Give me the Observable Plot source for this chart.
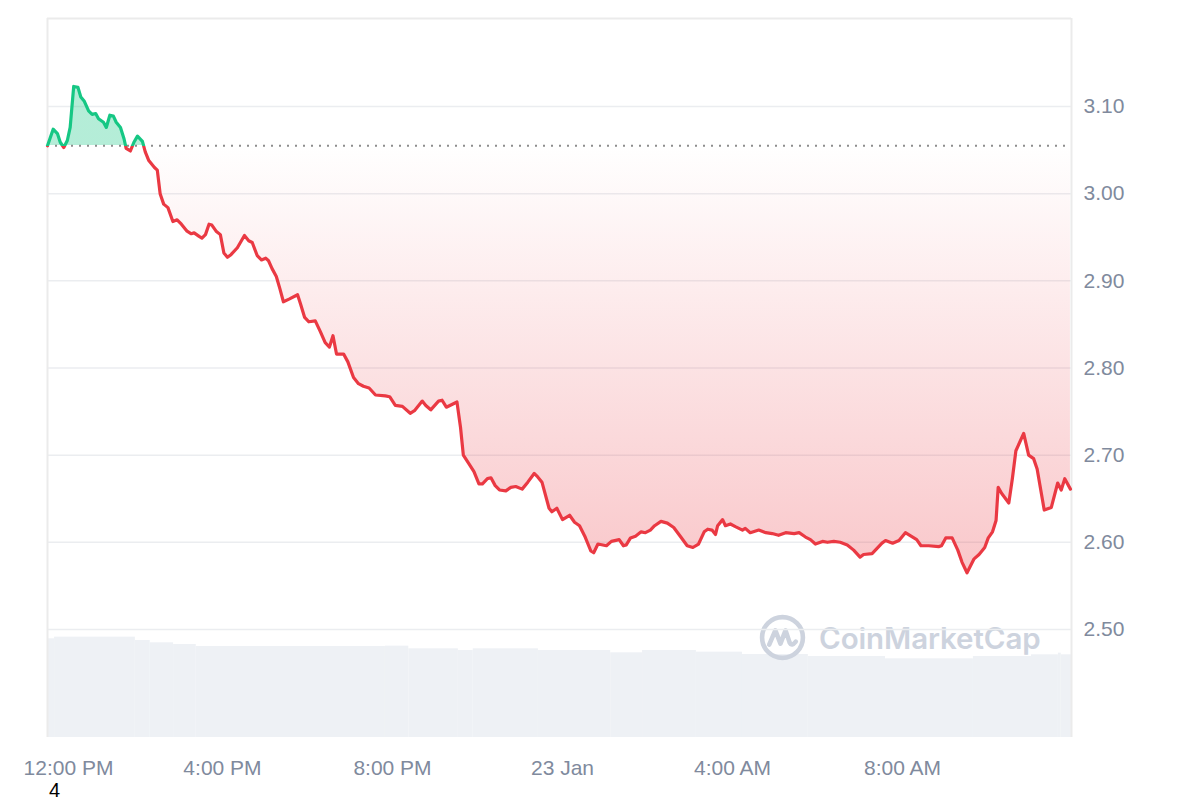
<!DOCTYPE html>
<html>
<head>
<meta charset="utf-8">
<script src="https://cdn.jsdelivr.net/npm/d3@7"></script>
<script src="https://cdn.jsdelivr.net/npm/@observablehq/plot@0.6"></script>
<style>
  html, body { margin: 0; padding: 0; background: #fff; }
  #chart { position: relative; width: 1200px; height: 780px; }
  #chart > svg { position: absolute; left: 0; top: 0; }
  #wm { position: absolute; left: 758px; top: 613px; display: flex; align-items: center; gap: 12px;
        font-family: Inter, "Noto Sans", sans-serif; font-weight: 600; font-size: 29.5px; color: #cdd3de; letter-spacing: -0.1px; }
  #caption { font-family: "Liberation Sans", Arial, sans-serif; font-size: 20px; line-height: 20px; height: 20px; padding-left: 49px; color: #000; }
</style>
</head>
<body>
<div id="chart"></div>
<div id="caption">4</div>
<script>
// ---- data ----
const times = [
"22 11:53","22 12:01","22 12:07","22 12:11","22 12:16","22 12:21","22 12:25","22 12:30","22 12:36","22 12:40",
"22 12:45","22 12:51","22 12:56","22 13:01","22 13:05","22 13:12","22 13:16","22 13:21","22 13:26","22 13:30",
"22 13:36","22 13:41","22 13:44","22 13:50","22 13:55","22 14:00","22 14:07","22 14:11","22 14:16","22 14:24",
"22 14:28","22 14:32","22 14:37","22 14:43","22 14:50","22 14:56","22 15:02","22 15:10","22 15:16","22 15:20",
"22 15:27","22 15:31","22 15:36","22 15:41","22 15:45","22 15:51","22 15:57","22 16:02","22 16:07","22 16:12",
"22 16:21","22 16:31","22 16:37","22 16:42","22 16:49","22 16:55","22 17:01","22 17:05","22 17:10","22 17:16",
"22 17:21","22 17:26","22 17:34","22 17:46","22 17:50","22 17:56","22 18:02","22 18:11","22 18:18","22 18:25",
"22 18:31","22 18:36","22 18:41","22 18:51","22 18:57","22 19:05","22 19:12","22 19:19","22 19:27","22 19:36",
"22 19:50","22 19:56","22 20:04","22 20:14","22 20:25","22 20:31","22 20:42","22 20:47","22 20:54","22 21:05",
"22 21:10","22 21:16","22 21:31","22 21:36","22 21:40","22 21:48","22 21:55","22 22:02","22 22:07","22 22:14",
"22 22:19","22 22:25","22 22:31","22 22:40","22 22:47","22 22:54","22 23:03","22 23:11","22 23:20","22 23:25",
"22 23:31","22 23:41","22 23:45","22 23:52","23 00:00","23 00:10","23 00:17","23 00:24","23 00:32","23 00:40",
"23 00:44","23 00:50","23 01:02","23 01:09","23 01:20","23 01:26","23 01:30","23 01:36","23 01:43","23 01:51",
"23 01:57","23 02:04","23 02:10","23 02:19","23 02:28","23 02:37","23 02:47","23 02:56","23 03:04","23 03:12",
"23 03:20","23 03:25","23 03:31","23 03:36","23 03:39","23 03:46","23 03:50","23 03:57","23 04:04","23 04:14",
"23 04:18","23 04:25","23 04:37","23 04:47","23 04:56","23 05:05","23 05:15","23 05:27","23 05:34","23 05:43",
"23 05:50","23 05:57","23 06:07","23 06:14","23 06:23","23 06:32","23 06:42","23 06:51","23 07:00","23 07:05",
"23 07:17","23 07:24","23 07:31","23 07:36","23 07:46","23 07:55","23 08:04","23 08:12","23 08:20","23 08:26",
"23 08:37","23 08:51","23 08:55","23 09:01","23 09:10","23 09:18","23 09:24","23 09:31","23 09:36","23 09:41",
"23 09:48","23 09:56","23 10:01","23 10:07","23 10:12","23 10:15","23 10:20","23 10:30","23 10:35","23 10:40",
"23 10:51","23 10:58","23 11:05","23 11:10","23 11:20","23 11:30","23 11:39","23 11:44","23 11:49","23 11:57"
];
const prices = [
3.055,3.074,3.069,3.059,3.053,3.061,3.076,3.123,3.122,3.111,
3.106,3.095,3.091,3.092,3.086,3.082,3.076,3.090,3.089,3.082,
3.076,3.063,3.052,3.049,3.059,3.066,3.060,3.048,3.038,3.030,
3.027,3.000,2.988,2.984,2.968,2.970,2.965,2.957,2.954,2.955,
2.951,2.949,2.953,2.965,2.964,2.957,2.953,2.932,2.927,2.930,
2.938,2.952,2.946,2.944,2.929,2.924,2.926,2.923,2.914,2.905,
2.891,2.876,2.879,2.884,2.874,2.858,2.853,2.854,2.842,2.829,
2.824,2.837,2.816,2.816,2.807,2.789,2.782,2.779,2.777,2.769,
2.768,2.767,2.757,2.756,2.748,2.751,2.762,2.757,2.752,2.762,
2.763,2.755,2.761,2.732,2.700,2.690,2.681,2.667,2.667,2.673,
2.674,2.665,2.660,2.659,2.663,2.664,2.661,2.669,2.679,2.675,
2.669,2.639,2.635,2.639,2.626,2.631,2.623,2.619,2.606,2.590,
2.588,2.598,2.596,2.601,2.603,2.596,2.597,2.605,2.607,2.612,
2.611,2.614,2.619,2.624,2.622,2.617,2.606,2.596,2.594,2.598,
2.612,2.615,2.614,2.609,2.619,2.626,2.619,2.621,2.618,2.614,
2.616,2.611,2.614,2.611,2.610,2.608,2.611,2.610,2.611,2.606,
2.603,2.598,2.601,2.600,2.601,2.600,2.597,2.591,2.583,2.586,
2.587,2.593,2.599,2.602,2.599,2.602,2.611,2.607,2.603,2.596,
2.596,2.595,2.596,2.605,2.605,2.591,2.577,2.565,2.573,2.581,
2.586,2.594,2.605,2.612,2.625,2.663,2.656,2.645,2.673,2.705,
2.725,2.700,2.696,2.684,2.637,2.640,2.668,2.660,2.673,2.661
];
// 24h volume profile (arbitrary units, read as relative bar heights)
const volStarts = ["22 11:53","22 12:03","22 13:57","22 14:18","22 14:51","22 15:23","22 19:50","22 20:23","22 21:33","22 21:54",
                   "22 23:26","23 01:08","23 01:53","23 03:09","23 04:14","23 05:47","23 07:36","23 09:40","23 11:02","23 11:40","23 11:44"];
const volEnds   = ["22 12:03","22 13:57","22 14:18","22 14:51","22 15:23","22 19:50","22 20:23","22 21:33","22 21:54","22 23:26",
                   "23 01:08","23 01:53","23 03:09","23 04:14","23 05:47","23 07:36","23 09:40","23 11:02","23 11:40","23 11:44","23 11:59"];
const volumes   = [296,301,291,284,279,273,274,266,261,266,261,254,261,256,249,243,236,243,248,253,248];
const yTicks = [2.5, 2.6, 2.7, 2.8, 2.9, 3.0, 3.1];
const xTickTimes = ["22 12:00","22 16:00","22 20:00","23 00:00","23 04:00","23 08:00"];
const xTickLabels = ["12:00 PM","4:00 PM","8:00 PM","23 Jan","4:00 AM","8:00 AM"];
const xStart = "22 11:53", xEnd = "23 11:58:30";
const yDomain = [2.376, 3.201];

// ---- build ----
const parseT = s => new Date(`2025-01-${s.slice(0,2)}T${s.slice(3)}`);
const data = times.map((t, i) => ({time: parseT(t), price: prices[i]}));
const vol = volumes.map((v, i) => ({start: parseT(volStarts[i]), end: parseT(volEnds[i]), v}));
const xt = xTickTimes.map((t, i) => ({t: parseT(t), label: xTickLabels[i]}));
const baseline = prices[0];
const xDomain = [parseT(xStart), parseT(xEnd)];

const W = 1200, H = 780, mT = 18, mB = 43, mL = 47, mR = 129;
const FONT = '"Liberation Sans", Arial, sans-serif';
const GRAY = "#808a9d";
const FS = 21;

const volPlot = Plot.plot({
  width: W, height: H, marginTop: mT, marginBottom: mB, marginLeft: mL, marginRight: mR,
  x: {type: "time", domain: xDomain, axis: null},
  y: {domain: [0, 2157], axis: null, label: null},
  style: {background: "white"},
  marks: [
    Plot.rectY(vol, {x1: "start", x2: "end", y: "v", fill: "#eef1f5"})
  ]
});

const pricePlot = Plot.plot({
  width: W, height: H, marginTop: mT, marginBottom: mB, marginLeft: mL, marginRight: mR,
  x: {type: "time", domain: xDomain, axis: null, label: null},
  y: {domain: yDomain, axis: null, label: null},
  style: {background: "transparent", fontFamily: FONT, fontSize: FS + "px", color: GRAY},
  marks: [
    Plot.gridY(yTicks, {stroke: "#ebedf0", strokeOpacity: 1, strokeWidth: 1.5}),
    Plot.ruleY([yDomain[1]], {stroke: "#ebebeb", strokeWidth: 2}),
    Plot.ruleX(xDomain, {stroke: "#ebebeb", strokeWidth: 2}),
    Plot.areaY(data, {x: "time", y1: baseline, y2: "price", fill: "url(#areaGrad)", curve: "linear"}),
    Plot.ruleY([baseline], {stroke: "#8d8d8d", strokeWidth: 2, strokeDasharray: "2,6"}),
    Plot.lineY(data, {x: "time", y: "price", stroke: "url(#lineGrad)", strokeWidth: 3.2, strokeLinejoin: "round", strokeLinecap: "round"}),
    Plot.axisY(yTicks, {anchor: "right", tickSize: 0, tickPadding: 12, tickFormat: d => d.toFixed(2), fill: GRAY, fontSize: FS, label: null}),
    Plot.text(xt.slice(1), {x: "t", text: "label", frameAnchor: "bottom", dy: 37, fill: GRAY, fontSize: FS}),
    Plot.text(xt.slice(0, 1), {x: "t", text: "label", frameAnchor: "bottom", dy: 37, dx: 16, fill: GRAY, fontSize: FS})
  ]
});

// gradients: green above the opening price, red (fading) below
const ys = pricePlot.scale("y");
const yb = ys.apply(baseline), yLow = ys.apply(d3.min(prices)), yTopPx = mT;
const f = (yb - yTopPx) / (yLow - yTopPx);
const defs = d3.select(pricePlot).insert("defs", ":first-child");
const ag = defs.append("linearGradient").attr("id", "areaGrad").attr("gradientUnits", "userSpaceOnUse")
  .attr("x1", 0).attr("x2", 0).attr("y1", yTopPx).attr("y2", yLow);
[[0, "#16c784", 0.32], [f, "#16c784", 0.32], [f, "#ea3943", 0.0], [1, "#ea3943", 0.28]].forEach(([o, c, a]) =>
  ag.append("stop").attr("offset", o).attr("stop-color", c).attr("stop-opacity", a));
const lg = defs.append("linearGradient").attr("id", "lineGrad").attr("gradientUnits", "userSpaceOnUse")
  .attr("x1", 0).attr("x2", 0).attr("y1", yTopPx).attr("y2", yLow);
[[0, "#16c784"], [f, "#16c784"], [f, "#ea3943"], [1, "#ea3943"]].forEach(([o, c]) =>
  lg.append("stop").attr("offset", o).attr("stop-color", c));

const chart = document.getElementById("chart");
chart.appendChild(volPlot);
const wm = document.createElement("div");
wm.id = "wm";
wm.innerHTML = `<svg width="49" height="49" viewBox="0 0 48 48">
  <circle cx="24" cy="24" r="20" fill="none" stroke="#cdd3de" stroke-width="4.5"/>
  <path d="M11 31 L17 17 L22 30 L27 17 L31 29 Q33 33 37 28" fill="none" stroke="#cdd3de" stroke-width="4.5" stroke-linejoin="round" stroke-linecap="round"/>
</svg><span>CoinMarketCap</span>`;
chart.appendChild(wm);
chart.appendChild(pricePlot);
</script>
</body>
</html>
